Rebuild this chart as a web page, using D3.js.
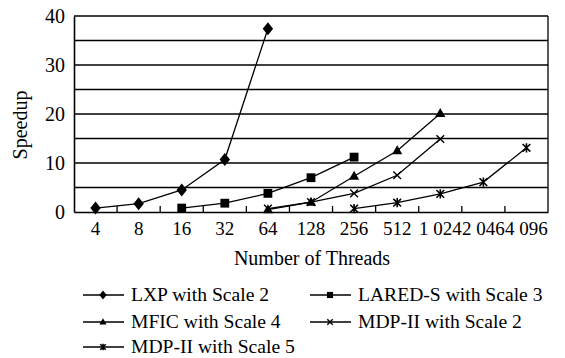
<!DOCTYPE html>
<html><head><meta charset="utf-8">
<script src="https://cdn.jsdelivr.net/npm/d3@7/dist/d3.min.js"></script>
<style>body{margin:0;background:#fff}svg{display:block}text{font-family:"Liberation Serif","Times New Roman",serif;fill:#000}</style>
</head><body><svg id="c" width="565" height="358"></svg>
<script>
const categories = ["4","8","16","32","64","128","256","512","1024","2048","4096"];
const tickLabels = ["4","8","16","32","64","128","256","512","1 024","2 046","4 096"];
const yTicks = [0,10,20,30,40];
const gridValues = [5,10,15,20,25,30,35,40];
const lxp = [["4",0.8],["8",1.7],["16",4.5],["32",10.7],["64",37.4]];
const lared = [["16",0.8],["32",1.8],["64",3.8],["128",7.0],["256",11.2]];
const mfic = [["64",0.5],["128",2.0],["256",7.3],["512",12.5],["1024",20.1]];
const mdp2 = [["64",0.7],["128",2.0],["256",3.8],["512",7.5],["1024",14.9]];
const mdp5 = [["256",0.7],["512",1.9],["1024",3.7],["2048",6.1],["4096",13.1]];
const seriesNames = ["LXP with Scale 2","LARED-S with Scale 3","MFIC with Scale 4","MDP-II with Scale 2","MDP-II with Scale 5"];

const svg = d3.select("#c");
const L=74,R=548,T=16,B=212;
const x = d3.scaleBand().domain(categories).range([L,R]);
const y = d3.scaleLinear().domain([0,40]).range([B,T]);
const FONT = '"Liberation Serif","Times New Roman",serif';

svg.append("g").selectAll("line").data(gridValues).join("line")
  .attr("x1",L).attr("x2",R).attr("y1",d=>y(d)).attr("y2",d=>y(d))
  .attr("stroke","#000").attr("stroke-width",1.3);
svg.append("line").attr("x1",R).attr("x2",R).attr("y1",T).attr("y2",B).attr("stroke","#000").attr("stroke-width",1.3);

const ya = svg.append("g").attr("transform",`translate(${L},0)`)
  .call(d3.axisLeft(y).tickValues(yTicks).tickSize(0).tickPadding(9).tickFormat(d3.format("d")));
ya.select(".domain").attr("stroke","#000").attr("stroke-width",1.6);
ya.selectAll("text").style("font-size","20px").style("font-family",FONT);

const xa = svg.append("g").attr("transform",`translate(0,${B})`)
  .call(d3.axisBottom(x).tickSize(0).tickPadding(10).tickFormat((d,i)=>tickLabels[i]));
xa.select(".domain").attr("stroke","#000").attr("stroke-width",1.6);
xa.selectAll("text").style("font-size","19px").style("font-family",FONT);
svg.append("g").selectAll("line").data(categories.slice(1)).join("line")
  .attr("x1",d=>x(d)).attr("x2",d=>x(d)).attr("y1",B).attr("y2",B-6)
  .attr("stroke","#000").attr("stroke-width",1.3);

svg.append("text").attr("transform","translate(27,125) rotate(-90)").attr("text-anchor","middle")
  .style("font-size","20px").text("Speedup");
svg.append("text").attr("x",312).attr("y",265).attr("text-anchor","middle")
  .style("font-size","20px").text("Number of Threads");

const line = d3.line().x(d=>x(d[0])+x.bandwidth()/2).y(d=>y(d[1]));
function marker(g,type,s){
  if(type==="diamond") g.append("path").attr("d",`M0,${-s}L${s*0.8},0L0,${s}L${-s*0.8},0Z`).attr("fill","#000");
  else if(type==="square") g.append("rect").attr("x",-s*0.8).attr("y",-s*0.8).attr("width",s*1.6).attr("height",s*1.6).attr("fill","#000");
  else if(type==="triangle") g.append("path").attr("d",`M0,${-s*0.9}L${s*0.85},${s*0.6}L${-s*0.85},${s*0.6}Z`).attr("fill","#000");
  else if(type==="x") g.append("path").attr("d",`M${-s*0.7},${-s*0.7}L${s*0.7},${s*0.7}M${s*0.7},${-s*0.7}L${-s*0.7},${s*0.7}`).attr("stroke","#000").attr("stroke-width",1.4);
  else if(type==="star") g.append("path").attr("d",`M${-s*0.7},${-s*0.7}L${s*0.7},${s*0.7}M${s*0.7},${-s*0.7}L${-s*0.7},${s*0.7}M0,${-s*0.85}L0,${s*0.85}`).attr("stroke","#000").attr("stroke-width",1.6);
}
const all = [[lxp,"diamond",6.5],[lared,"square",5.5],[mfic,"triangle",6],[mdp2,"x",5.5],[mdp5,"star",5.5]];
all.forEach(([data,type,s])=>{
  svg.append("path").attr("d",line(data)).attr("fill","none").attr("stroke","#000").attr("stroke-width",1.3);
  data.forEach(d=>{
    const g = svg.append("g").attr("transform",`translate(${x(d[0])+x.bandwidth()/2},${y(d[1])})`);
    marker(g,type,s);
  });
});

const legPos = [[83,295],[310,295],[83,322],[310,322],[83,347]];
all.forEach(([data,type,s],i)=>{
  const [lx,ly]=legPos[i];
  svg.append("line").attr("x1",lx).attr("x2",lx+41).attr("y1",ly).attr("y2",ly).attr("stroke","#000").attr("stroke-width",1.3);
  const g = svg.append("g").attr("transform",`translate(${lx+20},${ly})`);
  marker(g,type,s*0.7);
  svg.append("text").attr("x",lx+48).attr("y",ly).attr("dy","0.33em").style("font-size","19.6px").text(seriesNames[i]);
});
</script></body></html>
